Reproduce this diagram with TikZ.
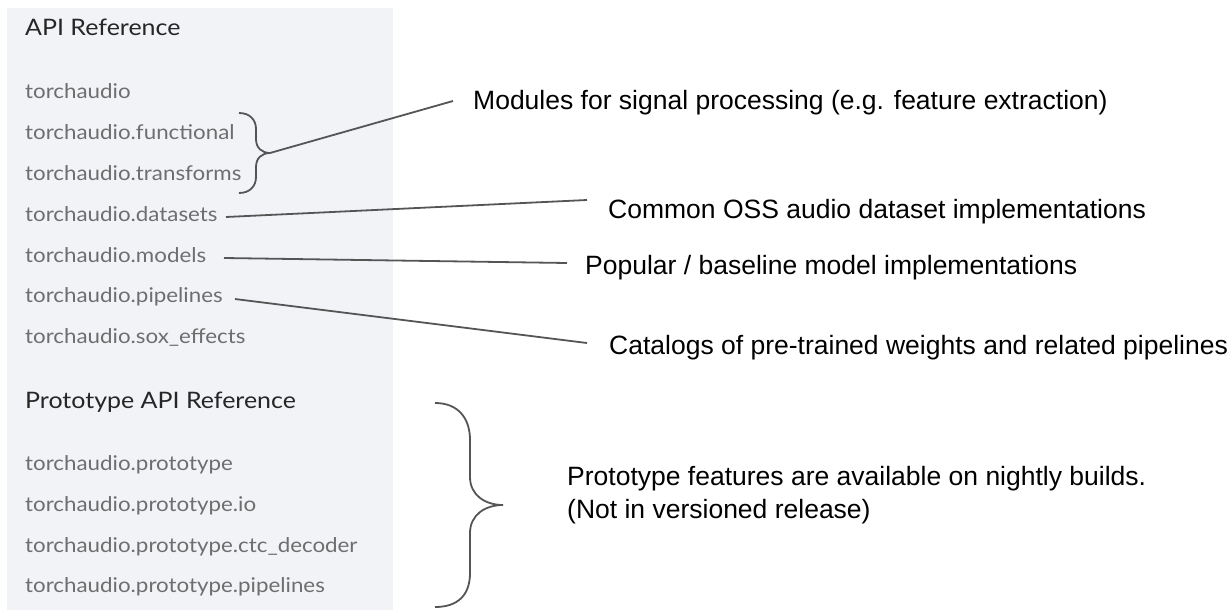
\documentclass[tikz,border=0pt]{standalone}
\usepackage{fontspec}
\setmainfont{Liberation Sans}
\newfontfamily\leftfont[FakeStretch=1.1]{Lato}
\definecolor{panel}{HTML}{F2F3F7}
\definecolor{itemgray}{HTML}{6E6E6E}
\definecolor{headgray}{HTML}{262626}
\definecolor{linegray}{HTML}{555555}
\begin{document}
\begin{tikzpicture}[x=1pt,y=-1pt,
  item/.style={anchor=base west, inner sep=0pt, font=\leftfont\fontsize{20.3}{24}\selectfont, text=itemgray},
  head/.style={anchor=base west, inner sep=0pt, font=\leftfont\fontsize{22.7}{27}\selectfont, text=headgray},
  note/.style={anchor=base west, inner sep=0pt, font=\fontsize{26.5}{31}\selectfont, text=black},
  conn/.style={draw=linegray, line width=1.8pt},
  bracepath/.style={draw=linegray, line width=1.8pt}]
\useasboundingbox (0,0) rectangle (1229,610);
\fill[panel] (7,8) rectangle (393,610);

% left column
\node[head] (apiref) at (25,36) {API Reference};
\node[item] (ta) at (25,98) {torchaudio};
\node[item] (tafunc) at (25,139) {torchaudio.functional};
\node[item] (tatrans) at (25,180) {torchaudio.transforms};
\node[item] (tadata) at (25,221) {torchaudio.datasets};
\node[item] (tamodels) at (25,262) {torchaudio.models};
\node[item] (tapipe) at (25,302) {torchaudio.pipelines};
\node[item] (tasox) at (25,343) {torchaudio.sox\_effects};
\node[head] (protoref) at (25,408) {Prototype API Reference};
\node[item] (pp) at (25,470) {torchaudio.prototype};
\node[item] (ppio) at (25,511) {torchaudio.prototype.io};
\node[item] (ppctc) at (25,552) {torchaudio.prototype.ctc\_decoder};
\node[item] (pppipe) at (25,592) {torchaudio.prototype.pipelines};

% right notes
\node[note] (nmod) at (473,110) {Modules for signal processing (e.g. feature extraction)};
\node[note] (ndata) at (608,218) {Common OSS audio dataset implementations};
\node[note] (nmodel) at (585,274) {Popular / baseline model implementations};
\node[note] (npipe) at (609,354) {Catalogs of pre-trained weights and related pipelines};
\node[note] (nproto1) at (567,485) {Prototype features are available on nightly builds.};
\node[note] (nproto2) at (567,518) {(Not in versioned release)};

% braces
\coordinate (b1top) at (239,113);
\coordinate (b1tip) at (270,153);
\coordinate (b1bot) at (239,193);
\draw[bracepath] (b1top) .. controls (250,113) and (256,120) .. (256,129) -- (256,139)
  .. controls (256,148) and (262,153) .. (b1tip)
  .. controls (262,153) and (256,158) .. (256,167) -- (256,177)
  .. controls (256,186) and (250,193) .. (b1bot);

\coordinate (b2top) at (435,403);
\coordinate (b2tip) at (503,505);
\coordinate (b2bot) at (435,607);
\draw[bracepath] (b2top) .. controls (458,403) and (470,418) .. (470,440) -- (470,477)
  .. controls (470,495) and (485,505) .. (b2tip)
  .. controls (485,505) and (470,515) .. (470,533) -- (470,573)
  .. controls (470,595) and (458,607) .. (b2bot);

% connectors
\coordinate (c1) at (453,101);
\coordinate (c2a) at (226,217);
\coordinate (c2b) at (587,200);
\coordinate (c3a) at (224,258);
\coordinate (c3b) at (567,263);
\coordinate (c4a) at (235,299);
\coordinate (c4b) at (587,343);
\draw[conn] (b1tip) -- (c1);
\draw[conn] (c2a) -- (c2b);
\draw[conn] (c3a) -- (c3b);
\draw[conn] (c4a) -- (c4b);
\end{tikzpicture}
\end{document}
